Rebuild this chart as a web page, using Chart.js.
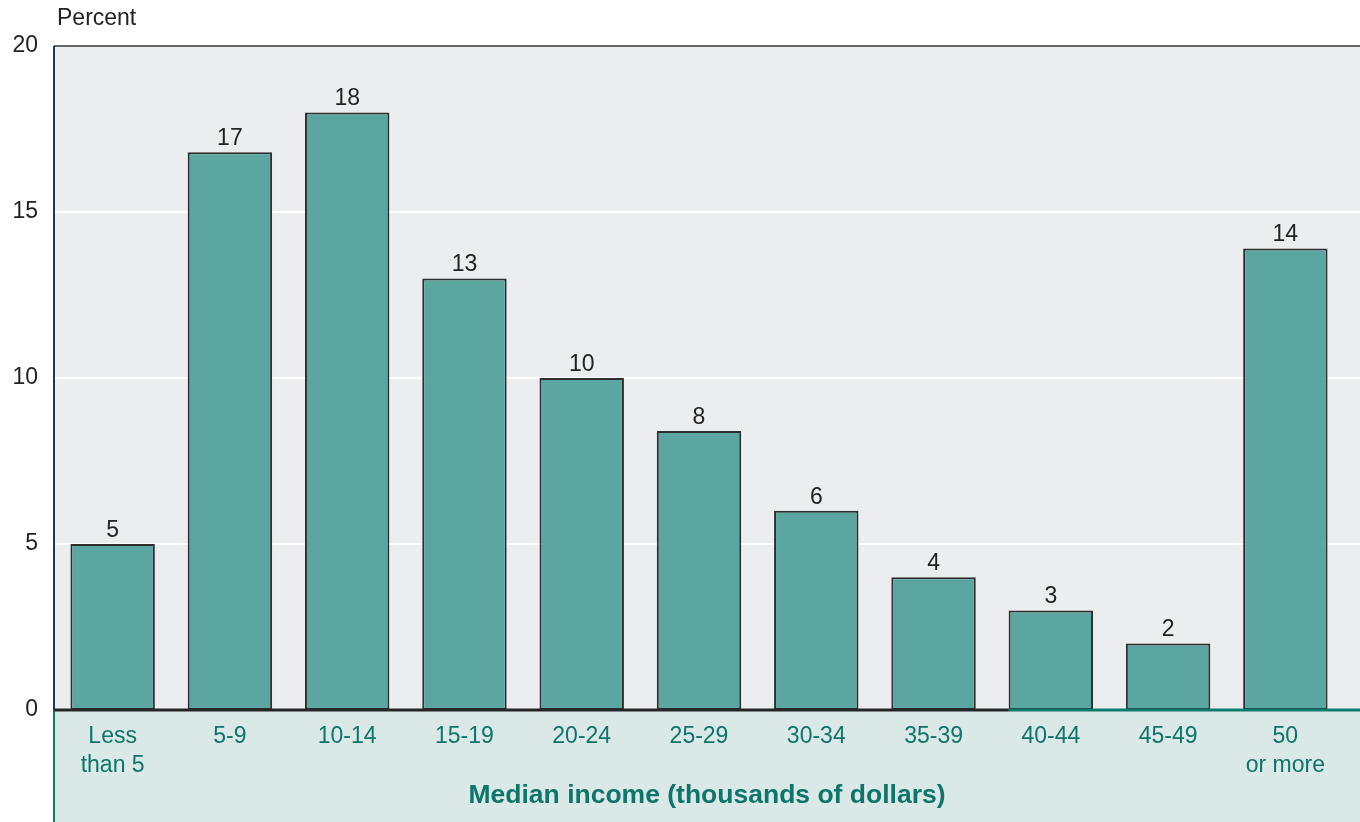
<!DOCTYPE html>
<html>
<head>
<meta charset="utf-8">
<script src="https://cdn.jsdelivr.net/npm/chart.js@4/dist/chart.umd.min.js"></script>
<style>
  html, body { margin: 0; padding: 0; background: #fff; }
  #wrap { width: 1360px; height: 822px; position: relative; }
</style>
</head>
<body>
<div id="wrap"><canvas id="incomeChart"></canvas></div>
<script>
// data
const categories = [['Less', 'than 5'], '5-9', '10-14', '15-19', '20-24', '25-29', '30-34', '35-39', '40-44', '45-49', ['50', 'or more']];
const percentValues = [5, 16.8, 18, 13, 10, 8.4, 6, 4, 3, 2, 13.9];
const valueLabels = ['5', '17', '18', '13', '10', '8', '6', '4', '3', '2', '14'];
const yTicks = [0, 5, 10, 15, 20];

const FONT = '"Liberation Sans", Arial, Helvetica, sans-serif';
const TEAL_TEXT = '#0d7569';

const backdrop = {
    id: 'backdrop',
    beforeDraw(chart) {
        const { ctx, chartArea, scales, width, height } = chart;
        const left = chartArea.left, top = chartArea.top, bottom = chartArea.bottom;
        ctx.save();
        // plot background
        ctx.fillStyle = '#ecedef';
        ctx.fillRect(left, top, width - left, bottom - top);
        // lower panel
        ctx.fillStyle = '#dae8e7';
        ctx.fillRect(left, bottom, width - left, height - bottom);
        // white gridlines
        ctx.strokeStyle = '#ffffff';
        ctx.lineWidth = 2;
        yTicks.slice(1, -1).forEach(v => {
            const y = scales.y.getPixelForValue(v);
            ctx.beginPath();
            ctx.moveTo(left, y);
            ctx.lineTo(width, y);
            ctx.stroke();
        });
        // top frame
        ctx.strokeStyle = '#666666';
        ctx.lineWidth = 2;
        ctx.beginPath();
        ctx.moveTo(left, top);
        ctx.lineTo(width, top);
        ctx.stroke();
        // left frame
        ctx.strokeStyle = '#1d3b4c';
        ctx.beginPath();
        ctx.moveTo(left, top);
        ctx.lineTo(left, bottom);
        ctx.stroke();
        ctx.strokeStyle = '#0f7a6e';
        ctx.beginPath();
        ctx.moveTo(left, bottom);
        ctx.lineTo(left, height);
        ctx.stroke();
        // "Percent" label
        ctx.fillStyle = '#222';
        ctx.font = '23px ' + FONT;
        ctx.textAlign = 'left';
        ctx.textBaseline = 'middle';
        ctx.fillText('Percent', 57, 19);
        // axis title
        ctx.fillStyle = TEAL_TEXT;
        ctx.font = 'bold 26.5px ' + FONT;
        ctx.textAlign = 'center';
        ctx.fillText('Median income (thousands of dollars)', (left + width) / 2, 796);
        ctx.restore();
    },
    afterDatasetsDraw(chart) {
        const { ctx, chartArea, width } = chart;
        const meta = chart.getDatasetMeta(0);
        ctx.save();
        ctx.fillStyle = '#222';
        ctx.font = '23px ' + FONT;
        ctx.textAlign = 'center';
        ctx.textBaseline = 'bottom';
        meta.data.forEach((bar, i) => {
            ctx.fillText(valueLabels[i], bar.x, bar.y - 2);
        });
        // baseline: dark, then teal on the right part
        const split = chart.scales.x.getPixelForValue(8) - 42;
        ctx.lineWidth = 3;
        ctx.strokeStyle = '#262626';
        ctx.beginPath();
        ctx.moveTo(chartArea.left, chartArea.bottom);
        ctx.lineTo(split, chartArea.bottom);
        ctx.stroke();
        ctx.strokeStyle = '#0f7a6e';
        ctx.beginPath();
        ctx.moveTo(split, chartArea.bottom);
        ctx.lineTo(width, chartArea.bottom);
        ctx.stroke();
        ctx.restore();
    }
};

const chart = new Chart(document.getElementById('incomeChart'), {
    type: 'bar',
    data: {
        labels: categories,
        datasets: [{
            data: percentValues,
            backgroundColor: '#5ba6a1',
            borderColor: '#2e2e2e',
            borderWidth: 2,
            borderSkipped: false,
            barPercentage: 0.72,
            categoryPercentage: 1
        }]
    },
    options: {
        responsive: true,
        maintainAspectRatio: false,
        animation: false,
        layout: { padding: { top: 46, right: 16, left: 0, bottom: 0 } },
        plugins: {
            legend: { display: false },
            tooltip: { enabled: false }
        },
        scales: {
            x: {
                grid: { display: false, drawTicks: false },
                border: { display: false },
                ticks: {
                    color: TEAL_TEXT,
                    font: { family: FONT, size: 23, lineHeight: 1.26 },
                    padding: 12,
                    maxRotation: 0,
                    autoSkip: false
                },
                afterFit(scale) { scale.height = 112; }
            },
            y: {
                min: 0,
                max: 20,
                afterBuildTicks(scale) { scale.ticks = yTicks.map(v => ({ value: v })); },
                grid: { display: false, drawTicks: false },
                border: { display: false },
                ticks: {
                    color: '#222',
                    font: { family: FONT, size: 23 },
                    padding: 16
                },
                afterFit(scale) { scale.width = 54; }
            }
        }
    },
    plugins: [backdrop]
});
</script>
</body>
</html>
